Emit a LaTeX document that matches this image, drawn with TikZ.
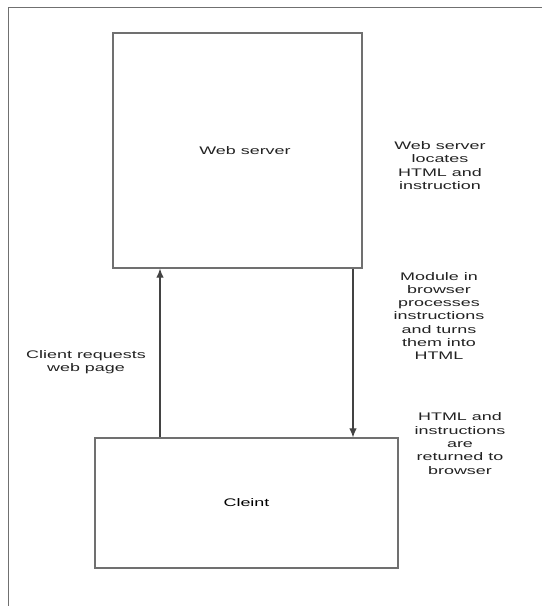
\documentclass[tikz,border=0pt]{standalone}
\usepackage{fontspec}
\usepackage{tikz}
\usetikzlibrary{arrows.meta}
\usetikzlibrary{positioning}
\newfontfamily\diagfont[FakeStretch=1.63]{Liberation Sans}
\definecolor{boxgray}{HTML}{707070}
\definecolor{inkgray}{HTML}{222222}
\tikzset{>={Latex[length=9pt,width=7.5pt]}}

\begin{document}
\begin{tikzpicture}[x=1pt,y=-1pt,
	box/.style={draw=boxgray,line width=1.3pt,minimum width=#1},
	note/.style={align=center,text=inkgray},
	flow/.style={->,draw=inkgray!85,line width=1.1pt},
	every node/.style={font=\diagfont\fontsize{11}{13.3}\selectfont,inner sep=0pt}]
	\useasboundingbox (0,0) rectangle (542,606);
	% outer frame
	\draw[boxgray,line width=1.3pt] (8.5,606) -- (8.5,7.5) -- (542,7.5);
	% boxes
	\node[box=249pt,minimum height=235pt] (server) at (237.5,150.5) {};
	\node[note] (servername) at (245,151) {Web server};
	\node[box=303pt,minimum height=130pt] (client) at (246.5,503) {Cleint};
	% arrows
	\coordinate (up) at (160,0);
	\coordinate (down) at (353,0);
	\draw[flow] (client.north -| up) -- (server.south -| up);
	\draw[flow] (server.south -| down) -- (client.north -| down);
	% notes
	\node[note] (locates) at (440,165.5) {Web server\\locates\\HTML and\\instruction};
	\node[note] (module) at (439,316) {Module in\\browser\\processes\\instructions\\and turns\\them into\\HTML};
	\node[note] (returned) at (460,443.5) {HTML and\\instructions\\are\\returned to\\browser};
	\node[note] (request) at (86,362) {Client requests\\web page};
\end{tikzpicture}
\end{document}
